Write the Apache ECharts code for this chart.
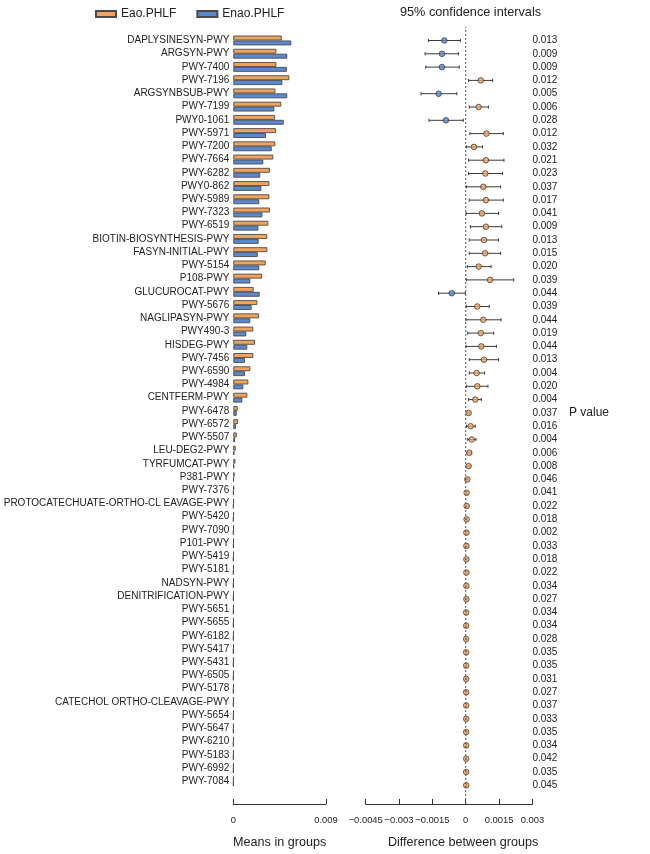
<!DOCTYPE html>
<html><head><meta charset="utf-8">
<script src="https://cdn.jsdelivr.net/npm/echarts@6/dist/echarts.min.js"></script>
<style>html,body{margin:0;padding:0;background:#fff}#chart{width:650px;height:854px}</style>
</head><body><div id="chart"></div>
<script>
const categories = ['DAPLYSINESYN-PWY','ARGSYN-PWY','PWY-7400','PWY-7196','ARGSYNBSUB-PWY','PWY-7199','PWY0-1061','PWY-5971','PWY-7200','PWY-7664','PWY-6282','PWY0-862','PWY-5989','PWY-7323','PWY-6519','BIOTIN-BIOSYNTHESIS-PWY','FASYN-INITIAL-PWY','PWY-5154','P108-PWY','GLUCUROCAT-PWY','PWY-5676','NAGLIPASYN-PWY','PWY490-3','HISDEG-PWY','PWY-7456','PWY-6590','PWY-4984','CENTFERM-PWY','PWY-6478','PWY-6572','PWY-5507','LEU-DEG2-PWY','TYRFUMCAT-PWY','P381-PWY','PWY-7376','PROTOCATECHUATE-ORTHO-CL EAVAGE-PWY','PWY-5420','PWY-7090','P101-PWY','PWY-5419','PWY-5181','NADSYN-PWY','DENITRIFICATION-PWY','PWY-5651','PWY-5655','PWY-6182','PWY-5417','PWY-5431','PWY-6505','PWY-5178','CATECHOL ORTHO-CLEAVAGE-PWY','PWY-5654','PWY-5647','PWY-6210','PWY-5183','PWY-6992','PWY-7084'];
const eaoMeans = [0.0047,0.00418,0.00418,0.00544,0.00408,0.00466,0.00405,0.00415,0.00408,0.00388,0.00356,0.0035,0.0035,0.00356,0.0034,0.0033,0.0033,0.00314,0.00279,0.00198,0.00233,0.0025,0.00194,0.0021,0.00194,0.00165,0.00146,0.00136,0.00043,0.00046,0.00033,0.00023,0.0002,0.00012,0.00006,0.00005,0.00005,0.00004,0.00005,0.00004,0.00004,0.00004,0.00004,0.00003,0.00003,0.00003,0.00003,0.00003,0.00003,0.00003,0.00003,0.00003,0.00003,0.00003,0.00003,0.00003,0.00003];
const enaoMeans = [0.00563,0.00524,0.0052,0.00476,0.00524,0.00398,0.00489,0.00317,0.00373,0.00291,0.00262,0.00272,0.00252,0.00282,0.00243,0.00246,0.00237,0.00252,0.00165,0.00256,0.00178,0.00165,0.00126,0.00136,0.00113,0.00113,0.00097,0.00087,0.00033,0.00026,0.00017,0.0001,0.00008,0.00005,0.00002,0.00002,0.00001,0.00001,0.00002,0.00001,0.00001,0.00001,0.00001,0.00001,0.00001,0.00001,0.00001,0.00001,0.00001,0.00001,0.00001,0.00001,0.00001,0.00001,0.00001,0.00001,0.00001];
const diffEst = [-0.00096,-0.00107,-0.00107,0.00068,-0.00122,0.00058,-0.00089,0.00093,0.00037,0.00091,0.00088,0.00079,0.00091,0.00073,0.00091,0.00082,0.00087,0.00058,0.00109,-0.00063,0.00052,0.00079,0.00068,0.0007,0.00082,0.00049,0.00052,0.00043,0.00013,0.00022,0.00027,0.00016,0.00013,0.00007,0.00004,0.00004,0.00004,0.00003,0.00003,0.00003,0.00003,0.00003,0.00003,0.00002,0.00002,0.00002,0.00002,0.00002,0.00002,0.00002,0.00002,0.00002,0.00002,0.00002,0.00002,0.00002,0.00002];
const diffLow = [-0.00168,-0.00183,-0.0018,0.00013,-0.00201,0.00016,-0.00165,0.00019,0.00004,0.00013,0.00013,0.00003,0.00016,0.00001,0.00021,0.00016,0.00016,0.00007,0.00003,-0.00122,0.00003,0.00001,0.00009,0.00001,0.00016,0.00016,0.00004,0.00013,0.00008,0.00004,0.00009,0.00007,0.00007,0.00003,0.00002,0.00002,0.00002,0.00002,0.00002,0.00002,0.00002,0.00002,0.00002,0.00001,0.00001,0.00001,0.00001,0.00001,0.00001,0.00001,0.00001,0.00001,0.00001,0.00001,0.00001,0.00001,0.00001];
const diffHigh = [-0.00024,-0.00032,-0.00029,0.00121,-0.0004,0.00102,-0.00011,0.00169,0.00076,0.00172,0.00166,0.00157,0.00169,0.00148,0.00162,0.00148,0.00157,0.00114,0.00216,-0.00002,0.00106,0.00159,0.00126,0.00138,0.00148,0.00085,0.001,0.0007,0.00019,0.00043,0.00046,0.00025,0.0002,0.00011,0.00006,0.00006,0.00006,0.00005,0.00005,0.00005,0.00005,0.00005,0.00005,0.00004,0.00004,0.00004,0.00004,0.00004,0.00004,0.00004,0.00004,0.00004,0.00004,0.00004,0.00004,0.00004,0.00004];
const pValues = ['0.013','0.009','0.009','0.012','0.005','0.006','0.028','0.012','0.032','0.021','0.023','0.037','0.017','0.041','0.009','0.013','0.015','0.020','0.039','0.044','0.039','0.044','0.019','0.044','0.013','0.004','0.020','0.004','0.037','0.016','0.004','0.006','0.008','0.046','0.041','0.022','0.018','0.002','0.033','0.018','0.022','0.034','0.027','0.034','0.034','0.028','0.035','0.035','0.031','0.027','0.037','0.033','0.035','0.034','0.042','0.035','0.045'];
const meansRange = [0, 0.009];
const diffRange = [-0.0045, 0.003];
const diffInterval = 0.0015;
const zeroLine = [[0, 0], [0, 1]];

const ORANGE = '#F2A35B', BLUE = '#5A89D1';
const FONT = "'Liberation Sans', Arial, Helvetica, sans-serif";
const ROW0 = 40.5, STEP = 13.3, N = categories.length;
const gridTop = ROW0 - STEP / 2, gridH = STEP * N;
const axisY = 808;

const chart = echarts.init(document.getElementById('chart'), null, {renderer: 'canvas'});
const axisLineStyle = {color: '#333', width: 1};
const fmtDiff = v => { const s = +(+v).toFixed(4); if (s === 0) return '0'; return (s < 0 ? '\u2212' : '') + Math.abs(s); };

chart.setOption({
  animation: false,
  backgroundColor: '#fff',
  textStyle: {fontFamily: FONT, color: '#222'},
  title: [
    {text: '95% confidence intervals', left: 400, top: 5.5, padding: 0, textStyle: {fontSize: 12.7, fontWeight: 'normal', color: '#222', fontFamily: FONT}},
    {text: 'P value', left: 569, top: 407, padding: 0, textStyle: {fontSize: 12, fontWeight: 'normal', color: '#222', fontFamily: FONT}}
  ],
  legend: {
    data: ['Eao.PHLF', 'Enao.PHLF'], left: 95, top: 8, padding: 0, icon: 'rect',
    itemWidth: 20, itemHeight: 6, itemGap: 20,
    textStyle: {fontSize: 12, color: '#222', fontFamily: FONT}
  },
  grid: [
    {left: 233.3, width: 92.7, top: gridTop, height: gridH},
    {left: 365.7, width: 166.7, top: gridTop, height: gridH},
    {left: 365.7, width: 166.7, top: 27, height: axisY - 27}
  ],
  xAxis: [
    {gridIndex: 0, type: 'value', min: meansRange[0], max: meansRange[1], interval: meansRange[1] - meansRange[0],
     position: 'bottom', offset: axisY - (gridTop + gridH),
     axisLine: {show: true, lineStyle: axisLineStyle}, axisTick: {show: true, inside: true, length: 5, lineStyle: axisLineStyle},
     axisLabel: {fontSize: 9.4, color: '#222', margin: 12}, splitLine: {show: false},
     name: 'Means in groups', nameLocation: 'middle', nameGap: 32, nameTextStyle: {fontSize: 12.6, color: '#222'}},
    {gridIndex: 1, type: 'value', min: diffRange[0], max: diffRange[1], show: false, splitLine: {show: false}},
    {gridIndex: 2, type: 'value', min: diffRange[0], max: diffRange[1], interval: diffInterval, position: 'bottom',
     axisLine: {show: true, onZero: false, lineStyle: axisLineStyle}, axisTick: {show: true, inside: true, length: 5, lineStyle: axisLineStyle},
     axisLabel: {fontSize: 9.4, color: '#222', margin: 12, formatter: fmtDiff}, splitLine: {show: false},
     name: 'Difference between groups', nameLocation: 'middle', nameGap: 32, nameTextStyle: {fontSize: 12.6, color: '#222', padding: [0, 0, 0, 28]}}
  ],
  yAxis: [
    {gridIndex: 0, type: 'category', data: categories, inverse: true, axisLine: {show: false}, axisTick: {show: false},
     axisLabel: {interval: 0, fontSize: 10, color: '#222', margin: 4, padding: [3, 0, 0, 0]}},
    {gridIndex: 1, type: 'category', data: categories, inverse: true, show: false},
    {gridIndex: 1, type: 'category', data: categories, inverse: true, position: 'right', axisLine: {show: false}, axisTick: {show: false},
     axisLabel: {interval: 0, fontSize: 10, color: '#222', margin: 0, padding: [3, 0, 0, 0], formatter: (v, i) => pValues[i]}},
    {gridIndex: 2, type: 'value', min: 0, max: 1, show: false, splitLine: {show: false}}
  ],
  series: [
    {name: 'Eao.PHLF', type: 'bar', xAxisIndex: 0, yAxisIndex: 0, data: eaoMeans, barWidth: 4.9, barGap: '0%',
     itemStyle: {color: ORANGE, borderColor: '#4a4a4a', borderWidth: 0.9}},
    {name: 'Enao.PHLF', type: 'bar', xAxisIndex: 0, yAxisIndex: 0, data: enaoMeans, barWidth: 4.9, barGap: '0%',
     itemStyle: {color: BLUE, borderColor: '#4a4a4a', borderWidth: 0.9}},
    {type: 'custom', xAxisIndex: 1, yAxisIndex: 1, silent: true, z: 3,
     data: categories.map((c, i) => [diffLow[i], diffHigh[i], i]),
     encode: {x: [0, 1], y: 2},
     renderItem: (params, api) => {
       const y = api.value(2);
       const a = api.coord([api.value(0), y]);
       const b = api.coord([api.value(1), y]);
       const h = 1.6;
       const st = {stroke: '#3a3a3a', lineWidth: 1};
       return {type: 'group', children: [
         {type: 'line', shape: {x1: a[0], y1: a[1], x2: b[0], y2: b[1]}, style: st},
         {type: 'line', shape: {x1: a[0], y1: a[1] - h, x2: a[0], y2: a[1] + h}, style: st},
         {type: 'line', shape: {x1: b[0], y1: b[1] - h, x2: b[0], y2: b[1] + h}, style: st}
       ]};
     }},
    {type: 'scatter', xAxisIndex: 1, yAxisIndex: 1, z: 5, symbolSize: 5.6,
     data: diffEst.map((v, i) => [v, i]),
     itemStyle: {color: p => p.value[0] < 0 ? BLUE : ORANGE, borderColor: '#333', borderWidth: 0.9}},
    {type: 'line', xAxisIndex: 2, yAxisIndex: 3, data: zeroLine, symbol: 'none', silent: true, z: 10,
     lineStyle: {type: [2, 2], color: '#555', width: 1}}
  ]
});
</script></body></html>
